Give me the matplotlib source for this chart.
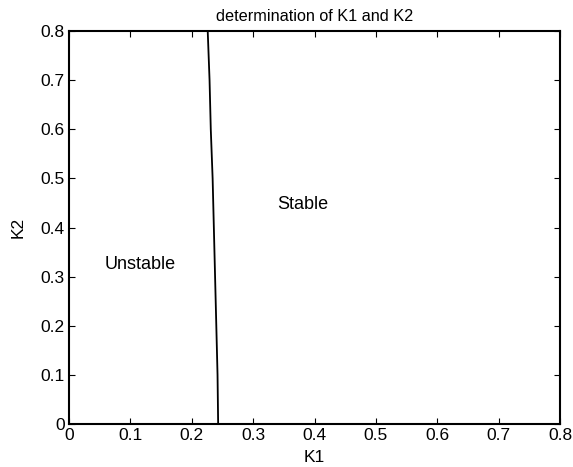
import matplotlib
matplotlib.use("Agg")
import matplotlib.pyplot as plt

plt.rcParams['font.family'] = ['Liberation Sans', 'DejaVu Sans']

# boundary between stable and unstable regions
k2_vals = [0.0, 0.1, 0.2, 0.3, 0.4, 0.5, 0.6, 0.7, 0.8]
k1_vals = [0.243, 0.242, 0.240, 0.238, 0.236, 0.234, 0.231, 0.229, 0.226]

ticks = [0, 0.1, 0.2, 0.3, 0.4, 0.5, 0.6, 0.7, 0.8]
tick_labels = ['0', '0.1', '0.2', '0.3', '0.4', '0.5', '0.6', '0.7', '0.8']

fig = plt.figure(figsize=(5.73, 4.67), dpi=100)
ax = fig.add_axes([0.1204, 0.092, 0.857, 0.8415])

ax.plot(k1_vals, k2_vals, color='black', linewidth=1.3)

ax.text(0.116, 0.324, 'Unstable', ha='center', va='center', fontsize=13)
ax.text(0.381, 0.446, 'Stable', ha='center', va='center', fontsize=13)

ax.set_xlim(0, 0.8)
ax.set_ylim(0, 0.8)
ax.set_xticks(ticks)
ax.set_xticklabels(tick_labels)
ax.set_yticks(ticks)
ax.set_yticklabels(tick_labels)
ax.tick_params(direction='in', top=True, right=True, labelsize=12.5, length=4, pad=3)
for s in ax.spines.values():
    s.set_linewidth(1.5)

ax.set_xlabel('K1', fontsize=12.5, labelpad=5)
ax.set_ylabel('K2', fontsize=12.5, labelpad=11)
ax.set_title('determination of K1 and K2', fontsize=11.7, pad=7)

fig.savefig('out.png', dpi=100)
